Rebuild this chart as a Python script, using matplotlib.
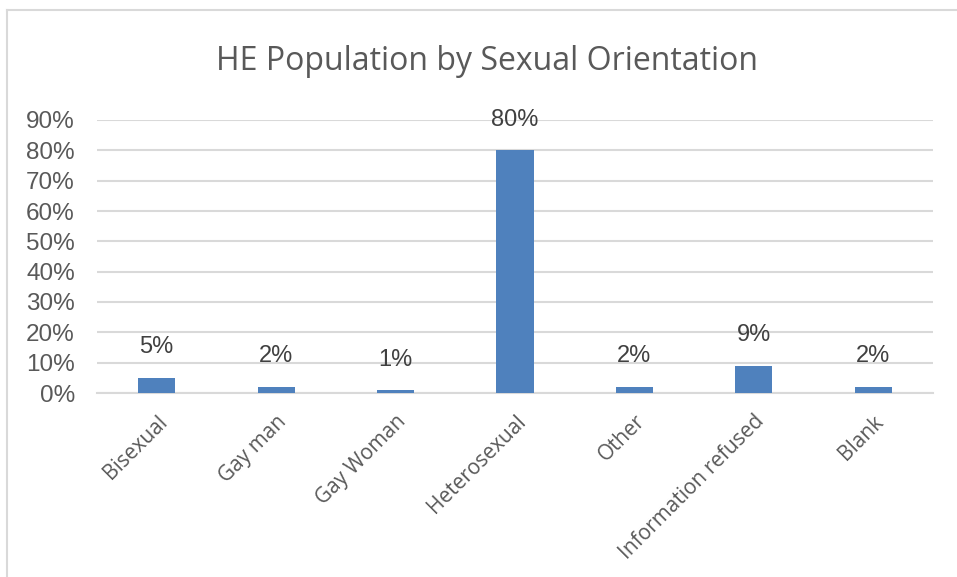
import matplotlib
matplotlib.use("Agg")
import matplotlib.pyplot as plt
from matplotlib.lines import Line2D

categories = ["Bisexual", "Gay man", "Gay Woman", "Heterosexual", "Other",
              "Information refused", "Blank"]
values = [0.05, 0.02, 0.01, 0.80, 0.02, 0.09, 0.02]
labels = ["5%", "2%", "1%", "80%", "2%", "9%", "2%"]
yticks = [0, 0.1, 0.2, 0.3, 0.4, 0.5, 0.6, 0.7, 0.8, 0.9]
ytick_labels = ["0%", "10%", "20%", "30%", "40%", "50%", "60%", "70%", "80%", "90%"]
title = "HE Population by Sexual Orientation"

plt.rcParams['font.family'] = ['Liberation Sans', 'DejaVu Sans']
text_color = "#595959"
grid_color = "#D9D9D9"
bar_color = "#4F81BD"

fig = plt.figure(figsize=(9.57, 5.77), dpi=100)
ax = fig.add_axes([97/957, 1-393/577, (933-97)/957, (393-120)/577])

x = list(range(len(categories)))
bars = ax.bar(x, values, width=0.31, color=bar_color, zorder=3)
ax.set_xlim(-0.5, len(categories)-0.5)
ax.set_ylim(0, 0.9)
ax.set_yticks(yticks)
ax.set_yticklabels(ytick_labels, fontsize=17.5, color=text_color)
ax.set_xticks(x)
ax.set_xticklabels(categories, rotation=45, ha="right", rotation_mode="anchor",
                   fontsize=15, color=text_color, family=['Open Sans', 'DejaVu Sans'])
ax.tick_params(axis='both', length=0)
ax.tick_params(axis='y', pad=16)
ax.tick_params(axis='x', pad=13)
ax.grid(axis='y', color=grid_color, linewidth=1.5, zorder=0)
for s in ["top", "right", "left"]:
    ax.spines[s].set_visible(False)
ax.spines["bottom"].set_color(grid_color)
ax.spines["bottom"].set_linewidth(1.5)

for rect, lab in zip(bars, labels):
    ax.annotate(lab, (rect.get_x() + rect.get_width()/2, rect.get_height()),
                xytext=(0, 14), textcoords="offset points", ha="center", va="bottom",
                fontsize=17, color="#404040")

fig.text(487/957, 1-61/577, title, ha="center", va="center", fontsize=23,
         color=text_color, family=['Open Sans', 'DejaVu Sans'])

# chart border (top and left visible)
fig.add_artist(Line2D([7/957, 1], [1-10/577, 1-10/577], color="#D9D9D9", linewidth=1.5))
fig.add_artist(Line2D([7/957, 7/957], [0, 1-10/577], color="#D9D9D9", linewidth=1.5))

fig.savefig("out.png", dpi=100)
